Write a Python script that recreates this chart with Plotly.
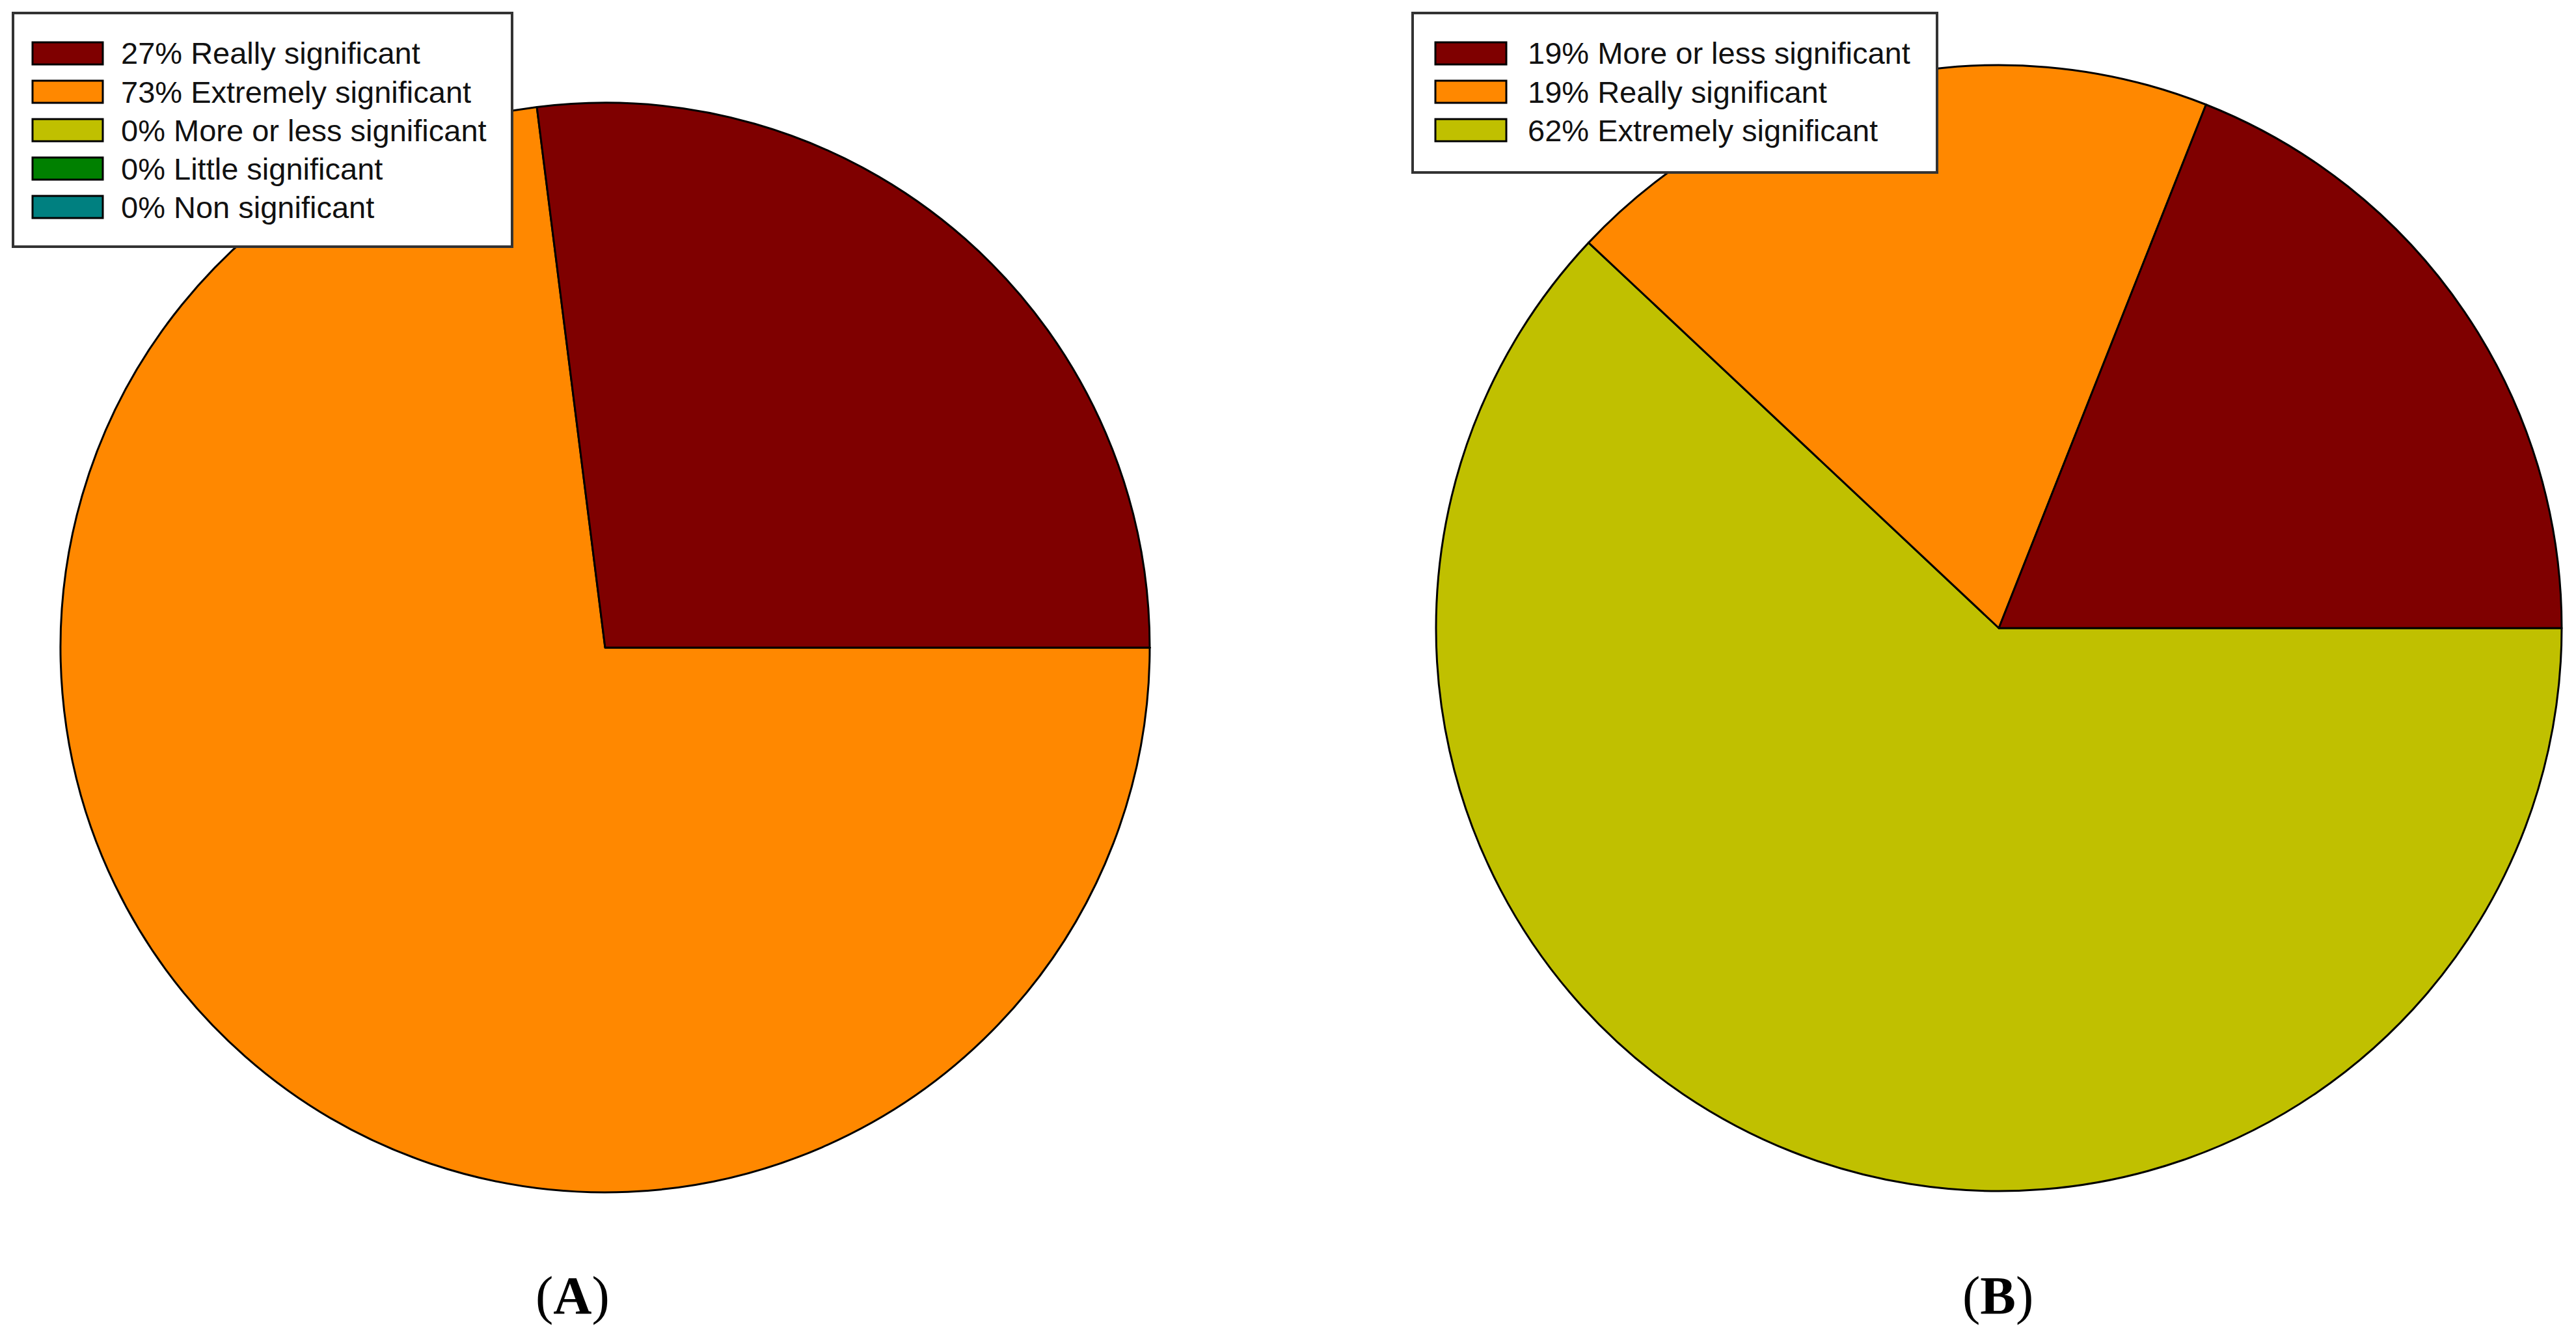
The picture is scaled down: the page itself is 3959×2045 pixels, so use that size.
import plotly.graph_objects as go

W, H = 3959, 2045
OX, OY = 8, 8            # default body margin of the html page
FW, FH = W - 16, H - 16  # figure size so the page does not overflow

# ---- data ----
labels_a = ["Really significant", "Extremely significant", "More or less significant",
            "Little significant", "Non significant"]
values_a = [27, 73, 0, 0, 0]
colors_a = ["#7F0000", "#FF8800", "#C0C000", "#008000", "#008080"]

labels_b = ["More or less significant", "Really significant", "Extremely significant"]
values_b = [19, 19, 62]
colors_b = ["#7F0000", "#FF8800", "#C0C000"]

panel_labels = ["A", "B"]


def px_x(x):
    return (x - OX) / FW


def px_y(y):
    return 1 - (y - OY) / FH


fig = go.Figure()

# pie A: center (930, 995), r 837 ; pie B: center (3072, 965), r 865
pies = [
    (labels_a, values_a, colors_a, (930, 995, 837)),
    (labels_b, values_b, colors_b, (3072, 965, 865)),
]
for labels, values, colors, (cx, cy, r) in pies:
    # first slice starts at 3 o'clock and runs counter-clockwise:
    # equivalent to the reversed order drawn clockwise from 3 o'clock
    fig.add_trace(go.Pie(
        labels=labels[::-1], values=values[::-1], sort=False,
        direction="clockwise", rotation=90,
        marker=dict(colors=colors[::-1], line=dict(color="black", width=3)),
        textinfo="none", hoverinfo="label+percent", showlegend=False,
        domain=dict(x=[px_x(cx - r), px_x(cx + r)], y=[px_y(cy + r), px_y(cy - r)]),
    ))

shapes = []
annotations = []

# manual legends (box geometry in pixels)
legends = [
    (labels_a, values_a, colors_a, (20, 20, 787, 379), 50, 158, 184),
    (labels_b, values_b, colors_b, (2171, 20, 2977, 265), 2206, 2315, 2346),
]
row0, row_step, sw_h = 82, 59, 34
for labels, values, colors, (bx0, by0, bx1, by1), sx0, sx1, tx in legends:
    shapes.append(dict(type="rect", xref="paper", yref="paper",
                       x0=px_x(bx0), x1=px_x(bx1), y0=px_y(by1), y1=px_y(by0),
                       line=dict(color="#333333", width=4), fillcolor="white", layer="above"))
    for i, (lab, val, col) in enumerate(zip(labels, values, colors)):
        yc = row0 + i * row_step
        shapes.append(dict(type="rect", xref="paper", yref="paper",
                           x0=px_x(sx0), x1=px_x(sx1),
                           y0=px_y(yc + sw_h / 2), y1=px_y(yc - sw_h / 2),
                           line=dict(color="black", width=3), fillcolor=col, layer="above"))
        annotations.append(dict(xref="paper", yref="paper", x=px_x(tx), y=px_y(yc),
                                xanchor="left", yanchor="middle", showarrow=False,
                                text=f"{val}% {lab}",
                                font=dict(family="Liberation Sans, Arial", size=47, color="#111111")))

# panel labels
for lab, xc in zip(panel_labels, [880, 3070]):
    annotations.append(dict(xref="paper", yref="paper", x=px_x(xc), y=px_y(1990),
                            xanchor="center", yanchor="middle", showarrow=False,
                            text=f"(<b>{lab}</b>)",
                            font=dict(family="Liberation Serif, Times New Roman", size=82,
                                      color="black")))

fig.update_layout(
    width=FW, height=FH,
    margin=dict(l=0, r=0, t=0, b=0),
    paper_bgcolor="white", plot_bgcolor="white",
    shapes=shapes, annotations=annotations,
    showlegend=False,
)

fig.write_html("out.html")
